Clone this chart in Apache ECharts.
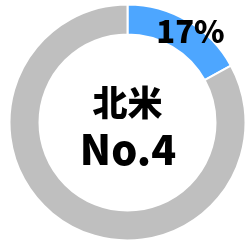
<!DOCTYPE html>
<html>
<head>
<meta charset="utf-8">
<script src="https://cdn.jsdelivr.net/npm/echarts@6/dist/echarts.min.js"></script>
<style>
  html, body { margin: 0; padding: 0; background: #fff; }
  #chart { width: 245px; height: 245px; }
</style>
</head>
<body>
<div id="chart"></div>
<script>
// data
const categories = ["北米", "その他"];
const values = [17, 83];
const colors = ["#4da6ff", "#bfbfbf"];
const centerLines = ["北米", "No.4"];

const chart = echarts.init(document.getElementById("chart"));

const option = {
  animation: false,
  series: [
    {
      type: "pie",
      center: [127.5, 122.5],
      radius: [88, 118],
      startAngle: 90,
      clockwise: true,
      itemStyle: { borderColor: "#fff", borderWidth: 2 },
      label: { show: false },
      labelLine: { show: false },
      data: categories.map((name, i) => ({
        name: name,
        value: values[i],
        itemStyle: { color: colors[i] },
        label: i === 0 ? {
          show: true,
          position: "inside",
          formatter: "{c}%",
          color: "#000",
          fontSize: 31,
          fontWeight: 900,
          fontFamily: "Noto Sans CJK JP",
          padding: [18, 0, 0, 18]
        } : { show: false }
      }))
    }
  ],
  graphic: [
    {
      type: "text",
      x: 127.5,
      y: 103,
      style: {
        text: centerLines[0],
        align: "center",
        verticalAlign: "middle",
        fontSize: 35,
        fontWeight: 900,
        fontFamily: "Noto Sans CJK JP",
        fill: "#000"
      }
    },
    {
      type: "text",
      x: 128,
      y: 149,
      style: {
        text: centerLines[1],
        align: "center",
        verticalAlign: "middle",
        fontSize: 41,
        fontWeight: 900,
        fontFamily: "Noto Sans CJK JP",
        fill: "#000"
      }
    }
  ]
};

chart.setOption(option);
</script>
</body>
</html>
